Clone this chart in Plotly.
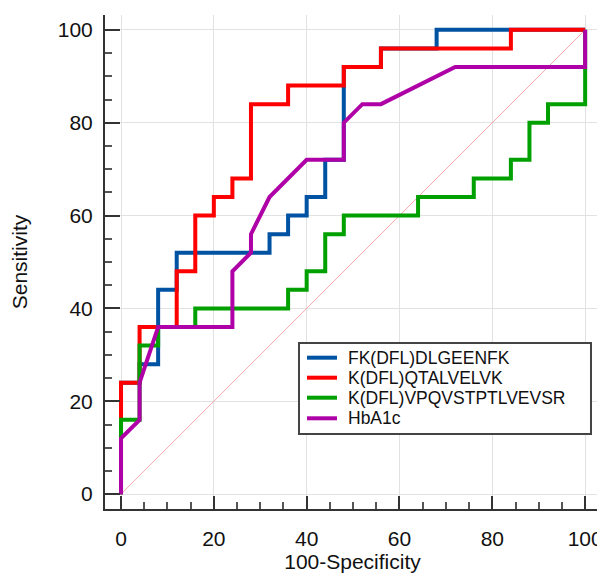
import plotly.graph_objects as go

# ROC curves: 100-Specificity (x) vs Sensitivity (y)
names = ["FK(DFL)DLGEENFK", "K(DFL)QTALVELVK", "K(DFL)VPQVSTPTLVEVSR", "HbA1c"]

fk_x = [0, 0, 4, 4, 8, 8, 12, 12, 32, 32, 36, 36, 40, 40, 44, 44, 48, 48, 56, 56, 68, 68, 100]
fk_y = [0, 24, 24, 28, 28, 44, 44, 52, 52, 56, 56, 60, 60, 64, 64, 72, 72, 92, 92, 96, 96, 100, 100]

qt_x = [0, 0, 4, 4, 12, 12, 16, 16, 20, 20, 24, 24, 28, 28, 36, 36, 48, 48, 56, 56, 84, 84, 100]
qt_y = [0, 24, 24, 36, 36, 48, 48, 60, 60, 64, 64, 68, 68, 84, 84, 88, 88, 92, 92, 96, 96, 100, 100]

vp_x = [0, 0, 4, 4, 8, 8, 16, 16, 36, 36, 40, 40, 44, 44, 48, 48, 64, 64, 76, 76, 84, 84, 88, 88, 92, 92, 100, 100]
vp_y = [0, 16, 16, 32, 32, 36, 36, 40, 40, 44, 44, 48, 48, 56, 56, 60, 60, 64, 64, 68, 68, 72, 72, 80, 80, 84, 84, 100]

hb_x = [0, 0, 4, 4, 8, 24, 24, 28, 28, 32, 40, 48, 48, 52, 56, 72, 100, 100]
hb_y = [0, 12, 16, 24, 36, 36, 48, 52, 56, 64, 72, 72, 80, 84, 84, 92, 92, 100]

diag_x = [0, 100]
diag_y = [0, 100]

tick_vals = [0, 20, 40, 60, 80, 100]

colors = ["#0052A2", "#FF0000", "#00A000", "#AE00A6"]
series = [(fk_x, fk_y), (qt_x, qt_y), (vp_x, vp_y), (hb_x, hb_y)]

FONT = "Arial, 'Liberation Sans', sans-serif"

fig = go.Figure()
fig.add_trace(go.Scatter(x=diag_x, y=diag_y, mode="lines",
                         line=dict(color="#F4A8A8", width=1),
                         showlegend=False, hoverinfo="skip"))
for (xs, ys), nm, c in zip(series, names, colors):
    fig.add_trace(go.Scatter(x=xs, y=ys, mode="lines", name=nm,
                             line=dict(color=c, width=4), showlegend=False))

axis_common = dict(
    automargin=False,
    showline=True, linecolor="#333333", linewidth=2,
    showgrid=True, gridcolor="#E2E2E2", gridwidth=1,
    zeroline=False,
    ticks="inside", tickcolor="#333333", tickwidth=2,
    tickvals=tick_vals,
    tickfont=dict(family=FONT, size=21, color="#111111"),
    minor=dict(dtick=5, tick0=0, ticks="inside", ticklen=7, tickwidth=1.5,
               tickcolor="#555555", showgrid=False),
)

# Legend box drawn in paper coordinates (framed, white background)
LEG_X0, LEG_X1, LEG_Y0, LEG_Y1 = 0.3919, 0.9818, 0.1518, 0.3360
LINE_X0, LINE_X1, TEXT_X = 0.4081, 0.4687, 0.4889
ROW_Y = [0.3063, 0.2658, 0.2253, 0.1836]

shapes = [dict(type="rect", xref="paper", yref="paper",
               x0=LEG_X0, x1=LEG_X1, y0=LEG_Y0, y1=LEG_Y1,
               fillcolor="white", line=dict(color="#444444", width=2), layer="above")]
annotations = []
for nm, c, ry in zip(names, colors, ROW_Y):
    shapes.append(dict(type="line", xref="paper", yref="paper",
                       x0=LINE_X0, x1=LINE_X1, y0=ry, y1=ry,
                       line=dict(color=c, width=4), layer="above"))
    annotations.append(dict(xref="paper", yref="paper", x=TEXT_X, y=ry,
                            xanchor="left", yanchor="middle", showarrow=False,
                            text=nm, borderpad=0,
                            font=dict(family=FONT, size=17.5, color="#111111")))

# the page body has an 8px margin, so the figure is sized/offset to fit the window
fig.update_layout(
    width=597, height=565,
    margin=dict(l=97, r=5, t=7, b=64, autoexpand=False),
    paper_bgcolor="white", plot_bgcolor="white",
    xaxis=dict(range=[-3.45, 103.2], ticklen=13, ticklabelstandoff=10,
               title=dict(text="100-Specificity", standoff=20,
                          font=dict(family=FONT, size=21, color="#111111")),
               **axis_common),
    yaxis=dict(range=[-3.2, 103.2], ticklen=15, ticklabelstandoff=6,
               title=dict(text="Sensitivity", standoff=28,
                          font=dict(family=FONT, size=21, color="#111111")),
               **axis_common),
    shapes=shapes,
    annotations=annotations,
    showlegend=False,
)

fig.write_html("out.html")
